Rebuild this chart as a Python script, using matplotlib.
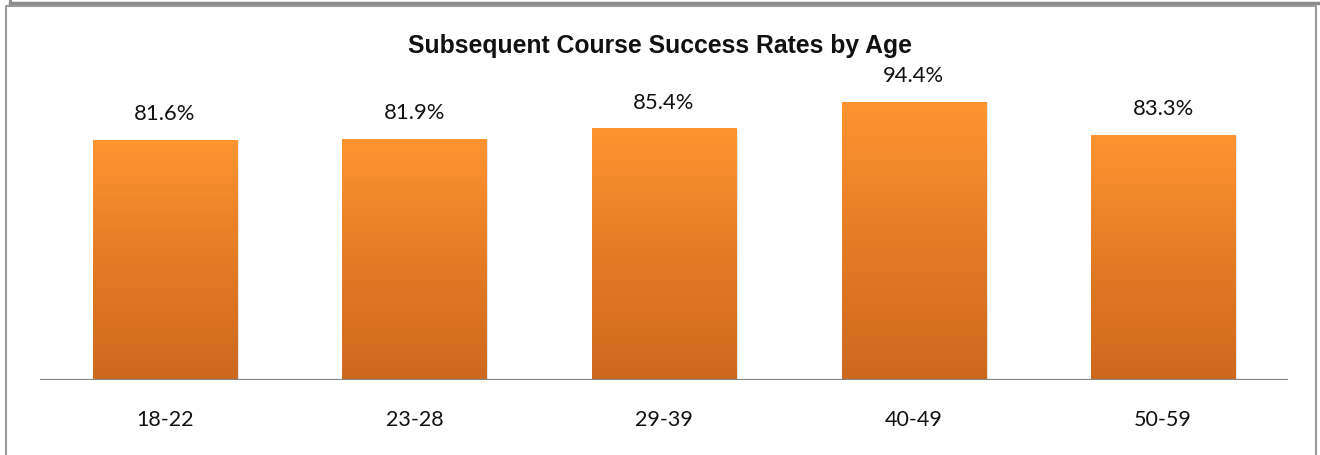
import numpy as np
import matplotlib
matplotlib.use('Agg')
import matplotlib.pyplot as plt
from matplotlib.colors import LinearSegmentedColormap
from matplotlib.patches import Rectangle
from matplotlib.lines import Line2D

# data
age_groups = ['18-22', '23-28', '29-39', '40-49', '50-59']
success_rates = [81.6, 81.9, 85.4, 94.4, 83.3]
title = 'Subsequent Course Success Rates by Age'

fig = plt.figure(figsize=(13.2, 4.56), dpi=100)
ax = fig.add_axes([40 / 1320, 1 - 381 / 456, 1248 / 1320, (381 - 86.5) / 456])

# frame lines around the picture
fig.add_artist(Line2D([10 / 1320, 1], [1 - 3.5 / 456, 1 - 3.5 / 456], color='#8c8c8c', lw=2.5))
fig.add_artist(Line2D([10 / 1320, 10 / 1320], [1, 1 - 3.5 / 456], color='#8c8c8c', lw=2))
fig.add_artist(Line2D([5.5 / 1320, 5.5 / 1320, 1316 / 1320, 1316 / 1320],
                      [0, 1 - 7 / 456, 1 - 7 / 456, 0], color='#9a9a9a', lw=1.5))

cmap = LinearSegmentedColormap.from_list('orange_grad', ['#cd691f', '#e47c25', '#ff9430'])
grad = np.linspace(0, 1, 256).reshape(-1, 1)
bar_w = 0.577

x = np.arange(len(age_groups))
bars = ax.bar(x, success_rates, width=bar_w, color='none', edgecolor='none', zorder=2)
for b, val in zip(bars, success_rates):
    x0, w, h = b.get_x(), b.get_width(), b.get_height()
    # soft shadow
    ax.add_patch(Rectangle((x0 + 0.008, -0.4), w, h, facecolor='#000000', alpha=0.10,
                           edgecolor='none', zorder=1))
    im = ax.imshow(grad, extent=[x0, x0 + w, 0, h], origin='lower', aspect='auto',
                   cmap=cmap, zorder=2)
    im.set_clip_path(b)
    ax.text(b.get_x() + w / 2, h + 9.0, f'{val:.1f}%', ha='center', va='center',
            fontsize=15.8, family='Lato', color='#111111')

ax.set_xlim(-0.5, len(age_groups) - 0.5)
ax.set_ylim(0, 100)
ax.axhline(0, color='#868686', lw=1.6, zorder=3)
for s in ax.spines.values():
    s.set_visible(False)
ax.set_yticks([])
ax.set_xticks(x)
ax.set_xticklabels(age_groups, fontsize=15.5, family='Lato', color='#111111')
ax.tick_params(axis='x', length=0, pad=21)

fig.text(660 / 1320, 1 - 46 / 456, title, ha='center', va='center', fontsize=17.8,
         fontweight='bold', family='Liberation Sans', color='#111111')

fig.savefig('out.png', dpi=100)
